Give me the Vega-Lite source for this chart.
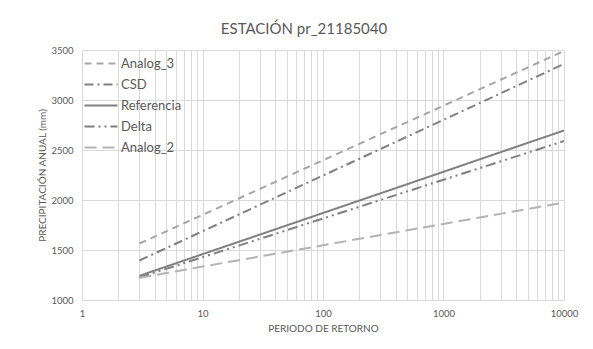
{
  "$schema": "https://vega.github.io/schema/vega-lite/v6.json",
  "width": 482,
  "height": 250,
  "autosize": "none",
  "padding": {"left": 82, "top": 50, "right": 29, "bottom": 49},
  "background": "white",
  "title": {"text": "ESTACIÓN pr_21185040", "font": "Lato", "fontSize": 15, "fontWeight": "normal", "color": "#595959", "anchor": "middle", "dx": -19, "offset": 8},
  "config": {"view": {"stroke": null}, "font": "Lato"},
  "data": {"values": [
    {"serie": "Analog_3", "T": 3, "valor": 1565}, {"serie": "Analog_3", "T": 5, "valor": 1686}, {"serie": "Analog_3", "T": 10, "valor": 1851}, {"serie": "Analog_3", "T": 20, "valor": 2015}, {"serie": "Analog_3", "T": 50, "valor": 2233}, {"serie": "Analog_3", "T": 100, "valor": 2397}, {"serie": "Analog_3", "T": 200, "valor": 2562}, {"serie": "Analog_3", "T": 500, "valor": 2779}, {"serie": "Analog_3", "T": 1000, "valor": 2943}, {"serie": "Analog_3", "T": 2000, "valor": 3108}, {"serie": "Analog_3", "T": 5000, "valor": 3325}, {"serie": "Analog_3", "T": 10000, "valor": 3490},
    {"serie": "CSD", "T": 3, "valor": 1395}, {"serie": "CSD", "T": 5, "valor": 1519}, {"serie": "CSD", "T": 10, "valor": 1687}, {"serie": "CSD", "T": 20, "valor": 1855}, {"serie": "CSD", "T": 50, "valor": 2077}, {"serie": "CSD", "T": 100, "valor": 2244}, {"serie": "CSD", "T": 200, "valor": 2412}, {"serie": "CSD", "T": 500, "valor": 2634}, {"serie": "CSD", "T": 1000, "valor": 2802}, {"serie": "CSD", "T": 2000, "valor": 2970}, {"serie": "CSD", "T": 5000, "valor": 3192}, {"serie": "CSD", "T": 10000, "valor": 3360},
    {"serie": "Referencia", "T": 3, "valor": 1242}, {"serie": "Referencia", "T": 5, "valor": 1334}, {"serie": "Referencia", "T": 10, "valor": 1458}, {"serie": "Referencia", "T": 20, "valor": 1582}, {"serie": "Referencia", "T": 50, "valor": 1746}, {"serie": "Referencia", "T": 100, "valor": 1870}, {"serie": "Referencia", "T": 200, "valor": 1994}, {"serie": "Referencia", "T": 500, "valor": 2158}, {"serie": "Referencia", "T": 1000, "valor": 2282}, {"serie": "Referencia", "T": 2000, "valor": 2407}, {"serie": "Referencia", "T": 5000, "valor": 2571}, {"serie": "Referencia", "T": 10000, "valor": 2695},
    {"serie": "Delta", "T": 3, "valor": 1225}, {"serie": "Delta", "T": 5, "valor": 1311}, {"serie": "Delta", "T": 10, "valor": 1428}, {"serie": "Delta", "T": 20, "valor": 1544}, {"serie": "Delta", "T": 50, "valor": 1698}, {"serie": "Delta", "T": 100, "valor": 1815}, {"serie": "Delta", "T": 200, "valor": 1932}, {"serie": "Delta", "T": 500, "valor": 2086}, {"serie": "Delta", "T": 1000, "valor": 2203}, {"serie": "Delta", "T": 2000, "valor": 2319}, {"serie": "Delta", "T": 5000, "valor": 2473}, {"serie": "Delta", "T": 10000, "valor": 2590},
    {"serie": "Analog_2", "T": 3, "valor": 1222}, {"serie": "Analog_2", "T": 5, "valor": 1269}, {"serie": "Analog_2", "T": 10, "valor": 1334}, {"serie": "Analog_2", "T": 20, "valor": 1398}, {"serie": "Analog_2", "T": 50, "valor": 1483}, {"serie": "Analog_2", "T": 100, "valor": 1547}, {"serie": "Analog_2", "T": 200, "valor": 1612}, {"serie": "Analog_2", "T": 500, "valor": 1697}, {"serie": "Analog_2", "T": 1000, "valor": 1761}, {"serie": "Analog_2", "T": 2000, "valor": 1825}, {"serie": "Analog_2", "T": 5000, "valor": 1910}, {"serie": "Analog_2", "T": 10000, "valor": 1975}
  ]},
  "mark": {"type": "line", "strokeWidth": 2, "clip": true},
  "encoding": {
    "x": {
      "field": "T", "type": "quantitative",
      "scale": {"type": "log", "domain": [1, 10000], "nice": false},
      "axis": {
        "title": "PERIODO DE RETORNO",
        "values": [1,2,3,4,5,6,7,8,9,10,20,30,40,50,60,70,80,90,100,200,300,400,500,600,700,800,900,1000,2000,3000,4000,5000,6000,7000,8000,9000,10000],
        "labelExpr": "indexof([1,10,100,1000,10000], datum.value) >= 0 ? format(datum.value, 'd') : ''",
        "labelOverlap": false, "labelFlush": false,
        "grid": true, "gridColor": "#d9d9d9", "gridWidth": 1,
        "domain": false, "ticks": false, "tickSize": 0,
        "labelPadding": 8, "labelFont": "Lato", "labelFontSize": 9.5, "labelColor": "#595959",
        "titleFont": "Lato", "titleFontSize": 10, "titleFontWeight": "normal", "titleColor": "#595959", "titlePadding": 6
      }
    },
    "y": {
      "field": "valor", "type": "quantitative",
      "scale": {"domain": [1000, 3500], "nice": false},
      "axis": {
        "title": "PRECIPITACIÓN ANUAL (mm)",
        "values": [1000, 1500, 2000, 2500, 3000, 3500],
        "format": "d",
        "grid": true, "gridColor": "#d9d9d9", "gridWidth": 1,
        "domain": false, "ticks": false, "tickSize": 0,
        "labelPadding": 9, "labelFont": "Lato", "labelFontSize": 9.5, "labelColor": "#595959",
        "titleFont": "Lato", "titleFontSize": 10, "titleFontWeight": "normal", "titleColor": "#595959", "titlePadding": 3
      }
    },
    "color": {
      "field": "serie", "type": "nominal",
      "sort": ["Analog_3", "CSD", "Referencia", "Delta", "Analog_2"],
      "scale": {"domain": ["Analog_3", "CSD", "Referencia", "Delta", "Analog_2"], "range": ["#a6a6a6", "#808080", "#808080", "#808080", "#b3b3b3"]},
      "legend": {"title": null, "orient": "top-left", "offset": 7, "padding": 0, "symbolType": "M-2,0H4", "symbolSize": 121, "symbolStrokeWidth": 2, "symbolOffset": 0, "labelFont": "Lato", "labelFontSize": 13, "labelColor": "#595959", "labelOffset": 19, "rowPadding": 7}
    },
    "strokeDash": {
      "field": "serie", "type": "nominal",
      "sort": ["Analog_3", "CSD", "Referencia", "Delta", "Analog_2"],
      "scale": {"domain": ["Analog_3", "CSD", "Referencia", "Delta", "Analog_2"], "range": [[7, 5], [9, 4, 2, 4], [1, 0], [10, 4, 2, 4, 2, 4], [12, 6]]},
      "legend": {"title": null, "orient": "top-left", "offset": 7, "padding": 0, "symbolType": "M-2,0H4", "symbolSize": 121, "symbolStrokeWidth": 2, "symbolOffset": 0, "labelFont": "Lato", "labelFontSize": 13, "labelColor": "#595959", "labelOffset": 19, "rowPadding": 7}
    }
  }
}
